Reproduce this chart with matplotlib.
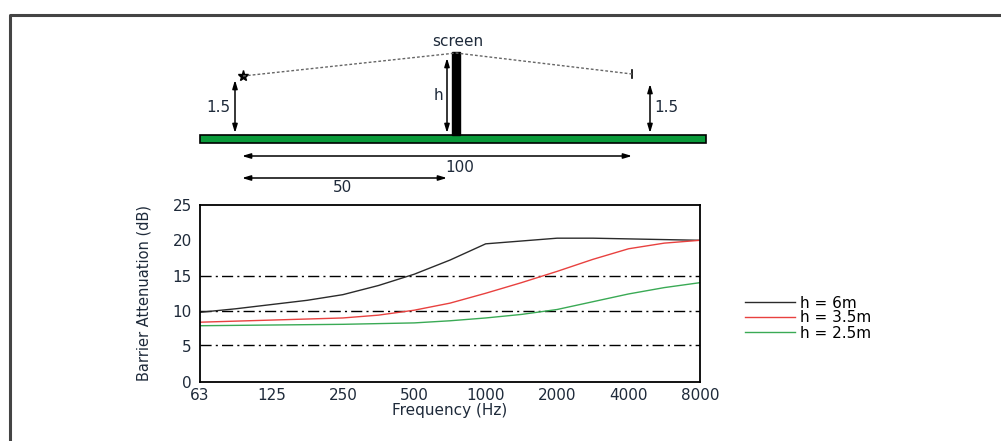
import numpy as np
import matplotlib
matplotlib.use("Agg")
import matplotlib.pyplot as plt
from matplotlib.patches import Rectangle

plt.rcParams["font.family"] = ["DejaVu Sans"]

# octave band centres (plotted at even spacing) and half-band readings
freq_labels = ["63", "125", "250", "500", "1000", "2000", "4000", "8000"]
positions = [0, 0.5, 1, 1.5, 2, 2.5, 3, 3.5, 4, 4.5, 5, 5.5, 6, 6.5, 7]
att_6m = [9.8, 10.3, 10.9, 11.5, 12.3, 13.6, 15.2, 17.2, 19.5, 19.9, 20.3, 20.3, 20.2, 20.1, 20.0]
att_35m = [8.4, 8.55, 8.7, 8.85, 9.0, 9.4, 10.1, 11.1, 12.5, 14.0, 15.6, 17.3, 18.8, 19.6, 20.0]
att_25m = [7.9, 7.95, 8.0, 8.05, 8.1, 8.2, 8.3, 8.6, 9.0, 9.5, 10.2, 11.3, 12.4, 13.3, 14.0]
series_labels = ["h = 6m", "h = 3.5m", "h = 2.5m"]
series_colors = ["#2b2b2b", "#e8413f", "#3aaa55"]
ref_levels = [15, 10, 5.2]

TXT = "#1e2a3a"
W, H = 1001, 441
fig = plt.figure(figsize=(W / 100, H / 100), dpi=100)

# overlay in pixel coordinates for the frame and the sketch
ov = fig.add_axes([0, 0, 1, 1])
ov.set_xlim(0, W)
ov.set_ylim(H, 0)
ov.axis("off")

ov.plot([10, 10, W], [H, 15, 15], color="#444444", lw=2.2, solid_capstyle="butt")

# ground
ov.add_patch(Rectangle((200, 135), 506, 8, facecolor="#0a9a3a", edgecolor="black", lw=1.2))
# screen
ov.add_patch(Rectangle((452, 52), 8, 83, facecolor="black", edgecolor="black"))
ov.text(458, 42, "screen", ha="center", va="center", fontsize=11, color=TXT)
# source and receiver
ov.plot(243, 76, marker="*", color="black", ms=8)
ov.plot([632, 632], [70, 78], color="black", lw=1.2)
ov.plot([243, 456, 632], [76, 53, 74], color="#666666", lw=1, ls=(0, (2, 1.5)))

arrow = dict(arrowstyle="<|-|>,head_length=0.5,head_width=0.15", color="black", lw=1.1,
             shrinkA=0, shrinkB=0)
ov.annotate("", xy=(235, 80), xytext=(235, 133), arrowprops=arrow)
ov.annotate("", xy=(447, 58), xytext=(447, 133), arrowprops=arrow)
ov.annotate("", xy=(650, 84), xytext=(650, 133), arrowprops=arrow)
ov.annotate("", xy=(242, 156), xytext=(632, 156), arrowprops=arrow)
ov.annotate("", xy=(242, 178), xytext=(447, 178), arrowprops=arrow)
ov.text(218, 107, "1.5", ha="center", va="center", fontsize=11, color=TXT)
ov.text(438, 95, "h", ha="center", va="center", fontsize=11, color=TXT)
ov.text(666, 107, "1.5", ha="center", va="center", fontsize=11, color=TXT)
ov.text(460, 167, "100", ha="center", va="center", fontsize=11, color=TXT)
ov.text(343, 187, "50", ha="center", va="center", fontsize=11, color=TXT)

# attenuation chart
ax = fig.add_axes([200 / W, 1 - 381.5 / H, 500 / W, 176.5 / H])
for y in ref_levels:
    ax.axhline(y, color="black", lw=1, ls=(0, (8, 3, 1.5, 3)))
for vals, lab, col in zip([att_6m, att_35m, att_25m], series_labels, series_colors):
    ax.plot(positions, vals, color=col, lw=1, label=lab)

ax.set_xlim(0, 7)
ax.set_ylim(0, 25)
ax.set_xticks(range(len(freq_labels)))
ax.set_xticklabels(freq_labels)
ax.set_yticks([0, 5, 10, 15, 20, 25])
ax.tick_params(axis="x", length=0, labelsize=11, pad=5, labelcolor=TXT)
ax.tick_params(axis="y", length=0, labelsize=11, pad=6, labelcolor=TXT)
for s in ax.spines.values():
    s.set_linewidth(1.3)
ax.set_xlabel("Frequency (Hz)", fontsize=11, labelpad=0, color=TXT)
ax.set_ylabel("Barrier Attenuation (dB)", fontsize=10.5, labelpad=15, color=TXT)

ax.legend(loc="center left", bbox_to_anchor=(745 / W, 1 - 318 / H),
          bbox_transform=fig.transFigure, frameon=False,
          fontsize=11, handlelength=3.3, handletextpad=0.3, labelspacing=0.0,
          borderpad=0, borderaxespad=0)

fig.savefig("out.png", dpi=100)
